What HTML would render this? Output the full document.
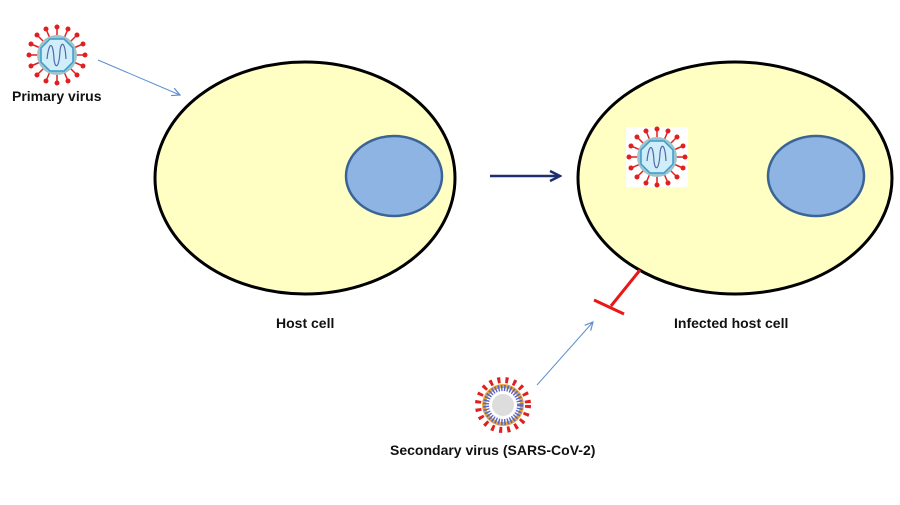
<!DOCTYPE html>
<html><head><style>
body{margin:0;background:#fff}
svg text{font-family:"Liberation Sans",sans-serif;font-weight:bold;font-size:14px;fill:#111}
</style></head><body>
<svg width="900" height="500" viewBox="0 0 900 500">
<defs>
<marker id="ab" markerWidth="10" markerHeight="10" refX="9" refY="5" orient="auto" markerUnits="userSpaceOnUse"><path d="M1,1 L9,5 L1,9" fill="none" stroke="#5b8fd0" stroke-width="1.2"/></marker>
<marker id="an" markerWidth="14" markerHeight="14" refX="12" refY="7" orient="auto" markerUnits="userSpaceOnUse"><path d="M2,2 L12,7 L2,12" fill="none" stroke="#1f2f6e" stroke-width="2.5"/></marker>
<g id="flu">
<g stroke="#e02020" stroke-width="1.5">
<line x1="0" y1="-28" x2="0" y2="0"/><line x1="0" y1="28" x2="0" y2="0"/><line x1="-28" y1="0" x2="0" y2="0"/><line x1="28" y1="0" x2="0" y2="0"/>
<line x1="-20" y1="-20" x2="20" y2="20"/><line x1="20" y1="-20" x2="-20" y2="20"/>
<line x1="-11" y1="-26" x2="11" y2="26"/><line x1="11" y1="-26" x2="-11" y2="26"/>
<line x1="-26" y1="-11" x2="26" y2="11"/><line x1="26" y1="-11" x2="-26" y2="11"/>
</g>
<g fill="#e02020"><circle cx="0" cy="-28" r="2.5"/><circle cx="0" cy="28" r="2.5"/><circle cx="-28" cy="0" r="2.5"/><circle cx="28" cy="0" r="2.5"/><circle cx="20" cy="20" r="2.5"/><circle cx="-20" cy="-20" r="2.5"/><circle cx="20" cy="-20" r="2.5"/><circle cx="-20" cy="20" r="2.5"/><circle cx="11" cy="26" r="2.5"/><circle cx="-11" cy="26" r="2.5"/><circle cx="11" cy="-26" r="2.5"/><circle cx="-11" cy="-26" r="2.5"/><circle cx="26" cy="11" r="2.5"/><circle cx="-26" cy="11" r="2.5"/><circle cx="26" cy="-11" r="2.5"/><circle cx="-26" cy="-11" r="2.5"/></g>
<circle r="20" fill="#9fc4cc"/>
<polygon points="-7,-16 7,-16 16,-7 16,7 7,16 -7,16 -16,7 -16,-7" fill="#cfeefa" stroke="#3a9ccc" stroke-width="1.5"/>
<path d="M-10,4 C-8,-14 -4,-14 -3,4 C-2,14 2,14 3,-4 C4,-14 8,-14 9,4" fill="none" stroke="#5566aa" stroke-width="1.2"/>
</g>
</defs>
<line x1="98" y1="60" x2="180" y2="95" stroke="#5b8fd0" stroke-width="1" marker-end="url(#ab)"/>
<use href="#flu" x="57" y="55"/>
<text x="12" y="101">Primary virus</text>
<ellipse cx="305" cy="178" rx="150" ry="116" fill="#ffffc4" stroke="#000" stroke-width="3"/>
<ellipse cx="394" cy="176" rx="48" ry="40" fill="#8eb4e3" stroke="#3a6496" stroke-width="2.5"/>
<ellipse cx="735" cy="178" rx="157" ry="116" fill="#ffffc4" stroke="#000" stroke-width="3"/>
<ellipse cx="816" cy="176" rx="48" ry="40" fill="#8eb4e3" stroke="#3a6496" stroke-width="2.5"/>
<rect x="626" y="127" width="62" height="60" fill="#fff"/>
<use href="#flu" x="657" y="157"/>
<line x1="490" y1="176" x2="560" y2="176" stroke="#1f2f6e" stroke-width="2.5" marker-end="url(#an)"/>
<text x="276" y="328">Host cell</text>
<text x="674" y="328">Infected host cell</text>
<line x1="640" y1="270" x2="611" y2="306" stroke="#e81818" stroke-width="3"/>
<line x1="594" y1="300" x2="624" y2="314" stroke="#e81818" stroke-width="3"/>
<line x1="537" y1="385" x2="593" y2="322" stroke="#5b8fd0" stroke-width="1" marker-end="url(#ab)"/>
<g transform="translate(503,405)">
<circle r="25" fill="none" stroke="#e02020" stroke-width="6" stroke-dasharray="3 5"/>
<circle r="21" fill="#e8a840"/>
<circle r="17" fill="#fff" stroke="#5566cc" stroke-width="6" stroke-dasharray="1.5 1.5"/>
<circle r="11" fill="#ddd"/>
</g>
<text x="390" y="455">Secondary virus (SARS-CoV-2)</text>
</svg>
</body></html>
